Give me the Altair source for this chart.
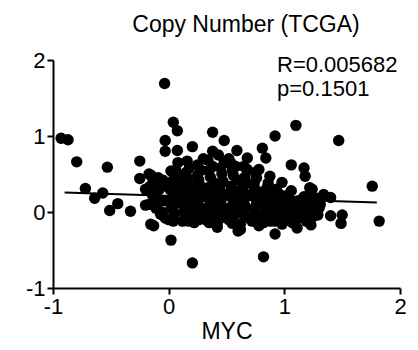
import altair as alt
import pandas as pd

FONT = "Liberation Sans"

# scatter points (MYC copy number vs gene copy number)
myc = [
    -0.93, -0.87, -0.795, -0.53, -0.25, -0.72, -0.64, -0.57, -0.51, -0.44, -0.33, -0.25, -0.20,
    -0.14, -0.13, -0.035, 0.02, 0.04, 0.075, -0.03, -0.03, 0.075, -0.20, -0.16, -0.10, -0.07,
    0.205, 0.38, 0.48, 0.59, 0.92, 0.81, 0.84, 0.68, 0.875,
    0.205, 0.82, 0.60, 0.42, 0.92,
    1.10, 1.47, 1.06, 1.17, 1.18, 0.98, 1.22, 1.34, 1.40, 1.76, 1.82, 1.40, 1.50, 1.49, 1.23,
    1.11, 1.26, 1.14, 1.01, 1.31, 1.24, 0.78, 0.62, 0.16, 0.17, -0.155, -0.17, -0.17,
    0.38, 0.43, 0.30, 0.52, 0.02,
    -0.15, -0.12, -0.14, -0.10, -0.08, -0.06, -0.05,
    0.00, 0.02, 0.03, 0.01, 0.04, 0.06, 0.08, 0.05, 0.09, 0.10, 0.10,
    0.12, 0.13, 0.15, 0.14, 0.16, 0.18, 0.19, 0.20, 0.20, 0.17,
    0.22, 0.23, 0.25, 0.24, 0.26, 0.28, 0.30, 0.29, 0.27,
    0.32, 0.33, 0.35, 0.34, 0.36, 0.38, 0.40, 0.39, 0.37, 0.40,
    0.42, 0.43, 0.45, 0.44, 0.46, 0.48, 0.50, 0.49, 0.47,
    0.52, 0.53, 0.55, 0.54, 0.56, 0.58, 0.60, 0.59, 0.57, 0.60,
    0.62, 0.63, 0.65, 0.64, 0.66, 0.68, 0.70, 0.69, 0.67,
    0.72, 0.73, 0.75, 0.74, 0.76, 0.78, 0.80, 0.79, 0.77,
    0.82, 0.83, 0.85, 0.84, 0.86, 0.88, 0.90, 0.89,
    0.92, 0.93, 0.95, 0.94, 0.97, 0.99, 1.00,
    1.02, 1.03, 1.05, 1.06, 1.08, 1.10,
    1.13, 1.15, 1.17, 1.20, 1.22, 1.25, 1.28, 1.30,
    -0.11, -0.09, -0.04, -0.02, -0.03,
    0.05, 0.06, 0.07, 0.04, 0.08,
    0.13, 0.15, 0.15, 0.16, 0.18,
    0.23, 0.25, 0.26, 0.27, 0.25,
    0.33, 0.35, 0.35, 0.36, 0.34,
    0.43, 0.45, 0.45, 0.46, 0.44,
    0.53, 0.55, 0.55, 0.56, 0.54,
    0.63, 0.65, 0.65, 0.66, 0.64,
    0.73, 0.75, 0.75, 0.76, 0.74,
    0.83, 0.85, 0.85, 0.86, 0.88,
    0.93, 0.95, 0.96, 0.97, 0.98,
    1.03, 1.05, 1.06, 1.07,
    1.12, 1.16, 1.18, 1.19,
    1.22, 1.27, 1.29,
]
value = [
    0.97, 0.95, 0.66, 0.59, 0.67, 0.31, 0.18, 0.25, 0.02, 0.11, 0.01, 0.44, 0.09,
    0.45, -0.18, 1.69, -0.37, 1.18, 1.07, 0.94, 0.80, 0.81, 0.30, 0.34, 0.19, -0.03,
    0.86, 1.05, 0.94, 0.81, 1.00, 0.84, 0.71, 0.71, 0.47,
    -0.67, -0.59, -0.25, -0.20, -0.29,
    1.14, 0.94, 0.62, 0.58, 0.47, 0.39, 0.32, 0.23, 0.19, 0.34, -0.12, -0.05, -0.04, -0.15, -0.17,
    -0.21, 0.01, 0.06, -0.07, 0.10, 0.30, -0.18, -0.23, 0.67, -0.12, -0.16, 0.50, 0.10,
    0.80, 0.75, 0.70, 0.70, 0.54,
    0.48, 0.38, 0.22, 0.10, 0.30, 0.00, 0.42,
    -0.10, 0.05, 0.18, 0.30, 0.42, 0.55, 0.65, -0.02, 0.25, 0.12, 0.38,
    -0.12, 0.00, 0.15, 0.30, 0.45, 0.58, 0.08, 0.22, -0.05, 0.36,
    -0.14, 0.02, 0.12, 0.28, 0.42, 0.55, 0.20, -0.05, 0.35,
    -0.10, 0.05, 0.18, 0.32, 0.46, 0.60, 0.10, 0.26, -0.03, 0.38,
    -0.15, 0.00, 0.14, 0.30, 0.50, 0.65, 0.22, -0.06, 0.40,
    -0.10, 0.06, 0.18, 0.34, 0.48, 0.60, 0.10, 0.27, -0.04, 0.42,
    -0.16, 0.00, 0.15, 0.30, 0.46, 0.56, 0.22, -0.08, 0.38,
    -0.12, 0.04, 0.18, 0.32, 0.45, 0.56, 0.10, 0.26, -0.05,
    -0.14, 0.00, 0.14, 0.28, 0.38, 0.20, -0.06, 0.06,
    -0.12, 0.02, 0.15, 0.26, 0.08, -0.04, 0.20,
    -0.10, 0.04, 0.16, 0.28, 0.00, 0.12,
    -0.08, 0.08, 0.20, 0.00, 0.12, -0.06, 0.18, 0.05,
    0.05, 0.45, 0.15, 0.35, -0.08,
    0.10, 0.32, 0.48, -0.12, 0.20,
    0.22, 0.06, 0.52, -0.08, 0.38,
    0.18, 0.48, -0.10, 0.06, 0.62,
    0.25, 0.55, -0.14, 0.12, 0.68,
    0.22, 0.58, -0.08, 0.06, 0.36,
    0.26, 0.55, -0.15, 0.02, 0.64,
    0.22, 0.60, -0.04, 0.08, 0.38,
    0.24, 0.52, -0.10, 0.10, 0.38,
    0.22, 0.32, -0.08, 0.08, -0.12,
    0.30, -0.08, 0.08, 0.22, -0.16,
    0.22, -0.05, 0.10, -0.14,
    0.15, -0.02, 0.10, -0.12,
    0.24, 0.08, -0.04,
]

# regression line end points
line_x = [-0.9, 1.8]
line_y = [0.255, 0.125]

title_text = "Copy Number (TCGA)"
stats_text = ["R=0.005682", "p=0.1501"]
x_title = "MYC"
y_title = "KLF5"
ticks = [-1, 0, 1, 2]

pts = pd.DataFrame({"MYC": myc, "val": value})
ln = pd.DataFrame({"MYC": line_x, "val": line_y})

xscale = alt.Scale(domain=[-1, 2], nice=False, zero=False)
yscale = alt.Scale(domain=[-1, 2], nice=False, zero=False)

common_axis = dict(
    values=ticks, labelExpr="'' + datum.value", grid=False,
    domainColor="black", domainWidth=2, tickColor="black", tickWidth=2, tickSize=6,
    labelFont=FONT, labelFontSize=22, labelColor="black", labelFlush=False, labelOverlap=False,
    titleFont=FONT, titleFontWeight="normal", titleColor="black",
)

xaxis = alt.Axis(title=x_title, labelPadding=2, titleFontSize=23, titlePadding=3, **common_axis)
yaxis = alt.Axis(title=y_title, labelPadding=2, titleFontSize=23, titleX=-52, titleY=114,
                 titleAngle=270, titleAlign="center", titleBaseline="bottom", **common_axis)

points = alt.Chart(pts).mark_circle(size=130, color="black", opacity=1).encode(
    x=alt.X("MYC:Q", scale=xscale, axis=xaxis),
    y=alt.Y("val:Q", scale=yscale, axis=yaxis),
)

line = alt.Chart(ln).mark_line(color="black", strokeWidth=2).encode(
    x=alt.X("MYC:Q", scale=xscale),
    y=alt.Y("val:Q", scale=yscale),
)

stats = alt.Chart(pd.DataFrame({"k": [0]})).mark_text(
    text=stats_text, font=FONT, fontSize=22, color="black", align="left",
    baseline="alphabetic", lineHeight=24,
).encode(x=alt.value(224), y=alt.value(12))

title = alt.Chart(pd.DataFrame({"k": [0]})).mark_text(
    text=title_text, font=FONT, fontSize=23, color="black", align="center",
    baseline="alphabetic",
).encode(x=alt.value(193), y=alt.value(-28))

chart = alt.layer(points, line, stats, title).properties(
    width=347, height=228,
    autosize=alt.AutoSizeParams(type="none"),
    padding={"left": 53, "top": 60, "right": 18, "bottom": 62},
    background="white",
).configure_view(stroke=None)

chart.save("out.html", embed_options={"renderer": "svg", "actions": False})
